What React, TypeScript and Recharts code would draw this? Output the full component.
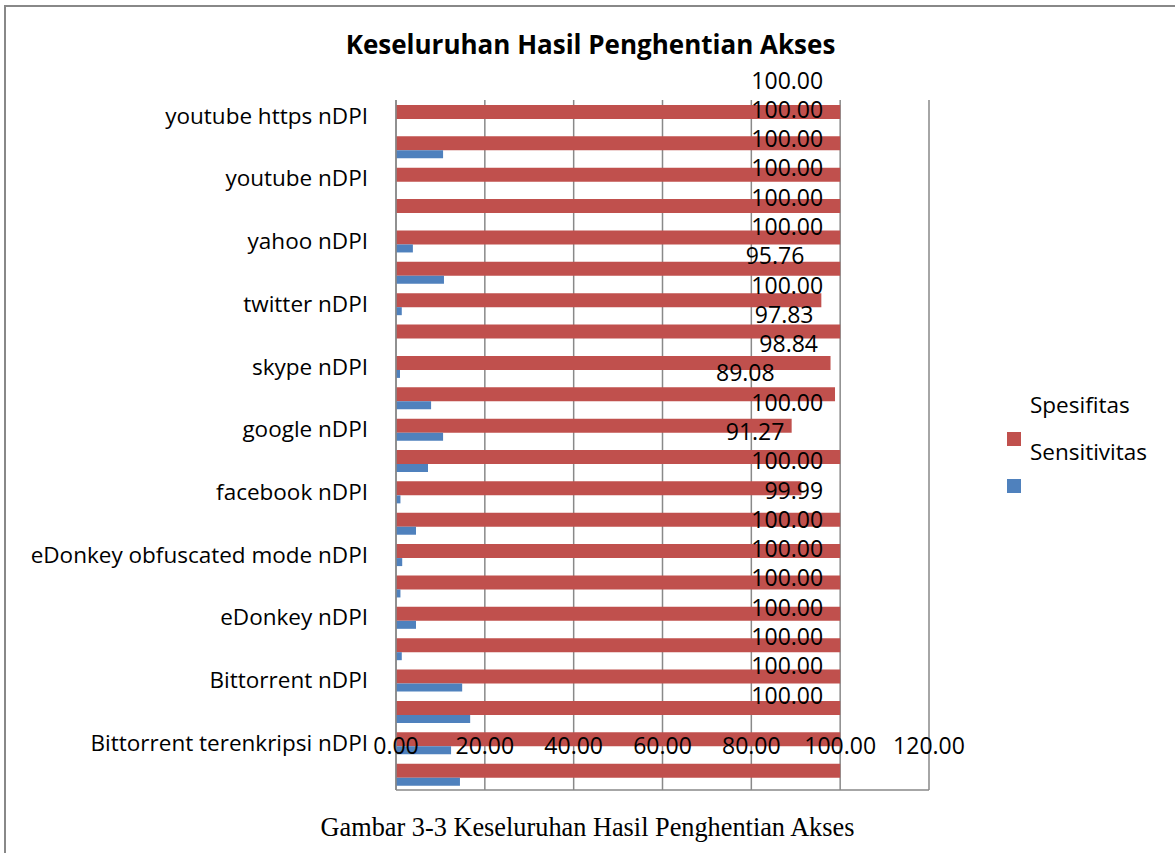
import { BarChart, Bar, XAxis, YAxis, CartesianGrid, Legend, LabelList } from 'recharts';

// rows top to bottom; only every other row carries a visible label
const categories = [
  'youtube https nDPI', '', 'youtube nDPI', '', 'yahoo nDPI', '', 'twitter nDPI', '',
  'skype nDPI', '', 'google nDPI', '', 'facebook nDPI', '', 'eDonkey obfuscated mode nDPI', '',
  'eDonkey nDPI', '', 'Bittorrent nDPI', '', 'Bittorrent terenkripsi nDPI', '',
];
const spesifitas = [
  100, 100, 100, 100, 100, 100, 95.76, 100, 97.83, 98.84, 89.08,
  100, 91.27, 100, 99.99, 100, 100, 100, 100, 100, 100, 100,
];
const sensitivitas = [
  0, 10.6, 0, 0, 3.8, 10.8, 1.3, 0, 0.9, 7.9, 10.6,
  7.2, 1.0, 4.5, 1.4, 1.0, 4.5, 1.3, 14.9, 16.7, 12.4, 14.4,
];
const xTicks = [0, 20, 40, 60, 80, 100, 120];
const seriesNames = ['Spesifitas', 'Sensitivitas'];

const data = categories.map((name, i) => ({
  name,
  spesifitas: spesifitas[i],
  sensitivitas: sensitivitas[i],
}));

const FONT = '"Open Sans", sans-serif';
const RED = '#C0504D';
const BLUE = '#4F81BD';
const GRID = '#898989';

function XTick({ x, y, payload }: any) {
  return (
    <text x={x} y={y - 36} textAnchor="middle" fontFamily={FONT} fontSize={23} fill="#000">
      {Number(payload.value).toFixed(2)}
    </text>
  );
}

function LegendBox({ payload }: any) {
  const items = (payload || [])
    .filter((p: any) => seriesNames.includes(p.value))
    .sort((a: any, b: any) => seriesNames.indexOf(a.value) - seriesNames.indexOf(b.value));
  return (
    <div style={{ position: 'relative', fontFamily: FONT, fontSize: 22.5 }}>
      {items.map((p: any) => (
        <div key={p.value} style={{ position: 'relative', height: 47 }}>
          <div style={{ position: 'absolute', left: 23, top: 0, lineHeight: '24px', whiteSpace: 'nowrap', color: '#000' }}>
            {p.value}
          </div>
          <div style={{ position: 'absolute', left: 0, top: 39, width: 14, height: 14, background: p.color }} />
        </div>
      ))}
    </div>
  );
}

export default function App() {
  return (
    <div style={{ position: 'absolute', left: 0, top: 0, width: 1175, height: 853, overflow: 'hidden', background: '#fff' }}>
      <div style={{ position: 'absolute', left: 4, top: 5, right: -10, bottom: -10, borderLeft: '2px solid #888', borderTop: '2px solid #888' }} />
      <div style={{ position: 'absolute', left: 0, top: 28, width: 1181, textAlign: 'center', fontFamily: FONT, fontWeight: 700, fontSize: 26, lineHeight: '32px' }}>
        Keseluruhan Hasil Penghentian Akses
      </div>
      <BarChart
        width={1175}
        height={853}
        data={data}
        layout="vertical"
        barGap={0}
        margin={{ top: 100, right: 246, bottom: 33, left: 0 }}
      >
        <CartesianGrid horizontal={false} stroke={GRID} strokeWidth={1.5} />
        <XAxis
          type="number"
          domain={[0, 120]}
          ticks={xTicks}
          height={30}
          tickLine={false}
          tickSize={0}
          tickMargin={0}
          tick={<XTick />}
          axisLine={{ stroke: GRID, strokeWidth: 1.5 }}
        />
        <YAxis
          type="category"
          dataKey="name"
          width={396}
          interval={0}
          tickLine={false}
          tickSize={0}
          tickMargin={28}
          axisLine={{ stroke: GRID, strokeWidth: 1.5 }}
          tick={{ fill: '#000', fontSize: 22.5, fontFamily: FONT }}
        />
        {/* label rows sit on their own, tighter band scale */}
        <YAxis yAxisId="lbl" type="category" dataKey="name" hide padding={{ top: -34.6, bottom: 80.3 }} />
        <Legend
          layout="horizontal"
          verticalAlign="middle"
          align="center"
          content={<LegendBox />}
          wrapperStyle={{ left: 1007, top: 393, width: 168 }}
        />
        <Bar dataKey="spesifitas" name="Spesifitas" fill={RED} barSize={14} isAnimationActive={false} />
        <Bar dataKey="sensitivitas" name="Sensitivitas" fill={BLUE} barSize={8} isAnimationActive={false} />
        <Bar yAxisId="lbl" dataKey="spesifitas" fill="none" barSize={2} legendType="none" isAnimationActive={false}>
          <LabelList
            dataKey="spesifitas"
            position="insideRight"
            offset={17}
            formatter={(v: any) => Number(v).toFixed(2)}
            fill="#000"
            fontSize={23}
            fontFamily={FONT}
          />
        </Bar>
      </BarChart>
      <div style={{ position: 'absolute', left: 0, top: 812, width: 1175, textAlign: 'center', fontFamily: '"Liberation Serif", serif', fontSize: 26.3, lineHeight: '32px' }}>
        Gambar 3-3 Keseluruhan Hasil Penghentian Akses
      </div>
    </div>
  );
}
